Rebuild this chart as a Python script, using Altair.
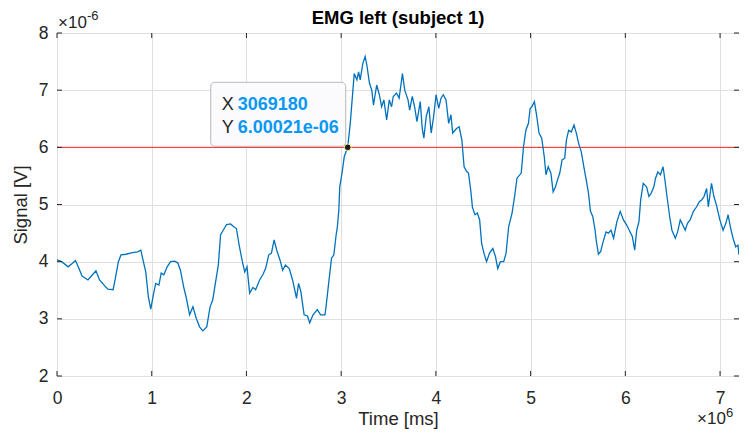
import altair as alt
import pandas as pd

# Time in units of 1e6 ms, signal in units of 1e-6 V
time_1e6_ms = [
    0.000, 0.049, 0.118, 0.154, 0.195, 0.230, 0.264, 0.327, 0.363, 0.411,
    0.449, 0.502, 0.536, 0.592, 0.613, 0.648, 0.676, 0.728, 0.797, 0.850,
    0.885, 0.912, 0.937, 0.964, 0.990, 1.017, 1.042, 1.076, 1.100, 1.128,
    1.163, 1.199, 1.240, 1.275, 1.303, 1.337, 1.366, 1.400, 1.435, 1.470,
    1.505, 1.539, 1.581, 1.616, 1.644, 1.669, 1.703, 1.727, 1.755, 1.790,
    1.832, 1.867, 1.894, 1.923, 1.957, 1.982, 2.006, 2.034, 2.069, 2.097,
    2.139, 2.173, 2.202, 2.236, 2.264, 2.292, 2.320, 2.354, 2.382, 2.411,
    2.452, 2.487, 2.529, 2.550, 2.574, 2.609, 2.644, 2.668, 2.703, 2.748,
    2.783, 2.829, 2.842, 2.870, 2.898, 2.923, 2.947, 2.960, 2.975, 2.985,
    3.009, 3.033, 3.069, 3.096, 3.124, 3.138, 3.166, 3.184, 3.201, 3.229,
    3.253, 3.271, 3.299, 3.323, 3.341, 3.375, 3.403, 3.427, 3.451, 3.480,
    3.508, 3.532, 3.550, 3.584, 3.612, 3.647, 3.671, 3.706, 3.723, 3.751,
    3.775, 3.800, 3.835, 3.856, 3.873, 3.898, 3.926, 3.950, 3.974, 4.002,
    4.030, 4.054, 4.078, 4.107, 4.135, 4.159, 4.177, 4.218, 4.246, 4.274,
    4.298, 4.323, 4.344, 4.368, 4.386, 4.413, 4.438, 4.462, 4.483, 4.507,
    4.535, 4.566, 4.601, 4.629, 4.653, 4.681, 4.716, 4.741, 4.768, 4.804,
    4.831, 4.856, 4.901, 4.925, 4.950, 4.977, 4.995, 5.013, 5.040, 5.065,
    5.089, 5.117, 5.144, 5.162, 5.186, 5.214, 5.238, 5.263, 5.284, 5.308,
    5.332, 5.360, 5.378, 5.402, 5.430, 5.458, 5.483, 5.507, 5.535, 5.562,
    5.587, 5.611, 5.632, 5.656, 5.681, 5.692, 5.716, 5.740, 5.761, 5.796,
    5.820, 5.849, 5.876, 5.911, 5.946, 5.980, 6.015, 6.050, 6.074, 6.099,
    6.120, 6.144, 6.162, 6.189, 6.224, 6.249, 6.273, 6.301, 6.319, 6.343,
    6.371, 6.398, 6.413, 6.440, 6.468, 6.492, 6.528, 6.552, 6.580, 6.607,
    6.632, 6.656, 6.684, 6.719, 6.753, 6.781, 6.806, 6.831, 6.858, 6.876,
    6.910, 6.935, 6.962, 6.998, 7.032, 7.061, 7.085, 7.109, 7.137, 7.165,
    7.189, 7.200,
]
signal_1e_6_V = [
    4.03, 4.00, 3.91, 3.96, 4.02, 3.89, 3.75, 3.68, 3.75, 3.84,
    3.68, 3.58, 3.52, 3.51, 3.68, 4.00, 4.12, 4.13, 4.16, 4.17,
    4.20, 4.00, 3.82, 3.39, 3.17, 3.42, 3.62, 3.59, 3.80, 3.77,
    3.91, 4.00, 4.01, 3.98, 3.85, 3.56, 3.36, 3.07, 3.21, 3.01,
    2.86, 2.79, 2.86, 3.21, 3.33, 3.59, 3.94, 4.47, 4.55, 4.65,
    4.66, 4.61, 4.58, 4.29, 4.00, 3.82, 3.91, 3.45, 3.55, 3.51,
    3.68, 3.77, 3.88, 4.12, 4.15, 4.38, 4.20, 4.03, 3.85, 3.94,
    3.88, 3.68, 3.36, 3.62, 3.48, 3.07, 3.05, 2.93, 3.07, 3.16,
    3.07, 3.07, 3.24, 3.65, 4.06, 4.12, 4.47, 4.61, 4.90, 5.31,
    5.55, 5.84, 6.00021, 6.42, 7.00, 7.29, 7.18, 7.32, 7.18, 7.47,
    7.59, 7.44, 7.12, 7.00, 6.74, 7.09, 6.92, 6.71, 6.83, 6.48,
    6.83, 6.71, 6.89, 6.95, 6.86, 7.29, 7.00, 6.83, 6.65, 6.89,
    6.71, 6.45, 6.80, 6.33, 6.16, 6.54, 6.71, 6.25, 6.51, 6.92,
    6.68, 6.86, 6.92, 6.83, 6.42, 6.57, 6.25, 6.33, 6.36, 6.13,
    5.66, 5.58, 5.55, 5.25, 4.95, 4.82, 4.85, 4.73, 4.32, 4.15,
    4.00, 4.15, 4.23, 4.09, 3.88, 4.00, 4.00, 4.15, 4.61, 4.85,
    5.14, 5.46, 5.55, 6.01, 6.30, 6.42, 6.68, 6.71, 6.80, 6.54,
    6.25, 6.16, 5.84, 5.52, 5.66, 5.55, 5.22, 5.31, 5.43, 5.55,
    5.78, 5.81, 6.13, 6.30, 6.27, 6.39, 6.25, 6.07, 5.92, 5.66,
    5.43, 5.20, 4.88, 4.79, 4.55, 4.38, 4.13, 4.18, 4.32, 4.52,
    4.50, 4.55, 4.41, 4.70, 4.88, 4.73, 4.64, 4.52, 4.44, 4.20,
    4.55, 4.70, 5.08, 5.37, 5.31, 5.14, 5.20, 5.31, 5.46, 5.57,
    5.52, 5.66, 5.49, 5.14, 4.79, 4.55, 4.41, 4.52, 4.73, 4.64,
    4.55, 4.67, 4.73, 4.88, 4.96, 5.05, 5.08, 5.14, 5.28, 4.96,
    5.37, 5.14, 4.99, 4.73, 4.55, 4.67, 4.82, 4.61, 4.41, 4.26,
    4.29, 4.12,
]

x_ticks = [0, 1, 2, 3, 4, 5, 6, 7]
y_ticks = [2, 3, 4, 5, 6, 7, 8]
threshold = [6.0]
tip_x = [3.06918]
tip_y = [6.00021]
tip_x_text = ["3069180"]
tip_y_text = ["6.00021e-06"]
title_text = "EMG left (subject 1)"

FONT = "Liberation Sans"
DARK = "#262626"
W, H = 682, 343
TICK = 5

df = pd.DataFrame({"t": time_1e6_ms, "v": signal_1e_6_V})
xs = alt.Scale(domain=[0, 7.2], nice=False, zero=False)
ys = alt.Scale(domain=[2, 8], nice=False, zero=False)

x_axis = alt.Axis(values=x_ticks, format="d", grid=True, gridColor="#dfdfdf",
                  ticks=False, domain=False, labelFontSize=17.5, labelColor=DARK,
                  labelFont=FONT, labelPadding=13, labelFlush=False,
                  title="Time [ms]", titleFont=FONT, titleFontSize=18.5,
                  titleFontWeight="normal", titleColor=DARK, titlePadding=3)
y_axis = alt.Axis(values=y_ticks, format="d", grid=True, gridColor="#dfdfdf",
                  ticks=False, domain=False, labelFontSize=17.5, labelColor=DARK,
                  labelFont=FONT, labelPadding=9, labelFlush=False,
                  title="Signal [V]", titleFont=FONT, titleFontSize=18.5,
                  titleFontWeight="normal", titleColor=DARK, titlePadding=8)

line = alt.Chart(df).mark_line(color="#0072BD", strokeWidth=1.3, clip=True).encode(
    x=alt.X("t:Q", scale=xs, axis=x_axis),
    y=alt.Y("v:Q", scale=ys, axis=y_axis),
)

thr = alt.Chart(pd.DataFrame({"v": threshold})).mark_rule(
    color="#ff0000", strokeWidth=1, opacity=0.85).encode(y=alt.Y("v:Q", scale=ys))

xt = pd.DataFrame({"t": x_ticks})
yt = pd.DataFrame({"v": y_ticks})
tick_style = dict(color=DARK, strokeWidth=1)
ticks_bottom = alt.Chart(xt).mark_rule(**tick_style).encode(
    x=alt.X("t:Q", scale=xs), y=alt.value(H - TICK), y2=alt.value(H))
ticks_top = alt.Chart(xt).mark_rule(**tick_style).encode(
    x=alt.X("t:Q", scale=xs), y=alt.value(0), y2=alt.value(TICK))
ticks_left = alt.Chart(yt).mark_rule(**tick_style).encode(
    y=alt.Y("v:Q", scale=ys), x=alt.value(0), x2=alt.value(TICK))
ticks_right = alt.Chart(yt).mark_rule(**tick_style).encode(
    y=alt.Y("v:Q", scale=ys), x=alt.value(W - TICK), x2=alt.value(W))

tip_df = pd.DataFrame({"t": tip_x, "v": tip_y, "xs": tip_x_text, "ys": tip_y_text})
tip_base = alt.Chart(tip_df)
tip_box = tip_base.mark_rect(
    fill="#fbfbfe", stroke="#b8b8b8", strokeWidth=1, cornerRadius=4,
    xOffset=-137, x2Offset=-2, yOffset=-65, y2Offset=-1,
).encode(x=alt.X("t:Q", scale=xs), x2="t:Q", y=alt.Y("v:Q", scale=ys), y2="v:Q")
lab_style = dict(font=FONT, fontSize=18, align="left", baseline="alphabetic")
tip_lx = tip_base.mark_text(text="X", color=DARK, dx=-126, dy=-37, **lab_style).encode(
    x=alt.X("t:Q", scale=xs), y=alt.Y("v:Q", scale=ys))
tip_ly = tip_base.mark_text(text="Y", color=DARK, dx=-126, dy=-14, **lab_style).encode(
    x=alt.X("t:Q", scale=xs), y=alt.Y("v:Q", scale=ys))
tip_vx = tip_base.mark_text(color="#0a98f2", fontWeight="bold", dx=-110, dy=-37,
                            **lab_style).encode(
    x=alt.X("t:Q", scale=xs), y=alt.Y("v:Q", scale=ys), text="xs:N")
tip_vy = tip_base.mark_text(color="#0a98f2", fontWeight="bold", dx=-110, dy=-14,
                            **lab_style).encode(
    x=alt.X("t:Q", scale=xs), y=alt.Y("v:Q", scale=ys), text="ys:N")
tip_pt = tip_base.mark_point(filled=True, shape="circle", size=45, fill="#1a1a1a",
                             stroke="#fff7a0", strokeWidth=1, opacity=1).encode(
    x=alt.X("t:Q", scale=xs), y=alt.Y("v:Q", scale=ys))

mult = dict(font=FONT, color=DARK, align="left", baseline="alphabetic")
ex_top = alt.Chart(tip_df).mark_text(text="\u00d710", fontSize=17, **mult).encode(
    x=alt.value(1), y=alt.value(-5))
ex_top_s = alt.Chart(tip_df).mark_text(text="-6", fontSize=13, **mult).encode(
    x=alt.value(30), y=alt.value(-13))
ex_bot = alt.Chart(tip_df).mark_text(text="\u00d710", fontSize=17, **mult).encode(
    x=alt.value(640), y=alt.value(391))
ex_bot_s = alt.Chart(tip_df).mark_text(text="6", fontSize=13, **mult).encode(
    x=alt.value(669), y=alt.value(384))
title = alt.Chart(tip_df).mark_text(text=title_text, font=FONT, fontSize=18.5,
                                    fontWeight="bold", color="#000000",
                                    align="center", baseline="alphabetic").encode(
    x=alt.value(W / 2), y=alt.value(-9))

chart = alt.layer(
    thr, line, ticks_bottom, ticks_top, ticks_left, ticks_right,
    tip_box, tip_lx, tip_ly, tip_vx, tip_vy, tip_pt,
    ex_top, ex_top_s, ex_bot, ex_bot_s, title,
).properties(
    width=W, height=H,
    autosize=alt.AutoSizeParams(type="none"),
    padding={"left": 49, "top": 25, "right": 0, "bottom": 53},
).configure_view(stroke=DARK, strokeWidth=1).configure(background="white")

chart.save("out.html", embed_options={"renderer": "svg", "actions": False})
